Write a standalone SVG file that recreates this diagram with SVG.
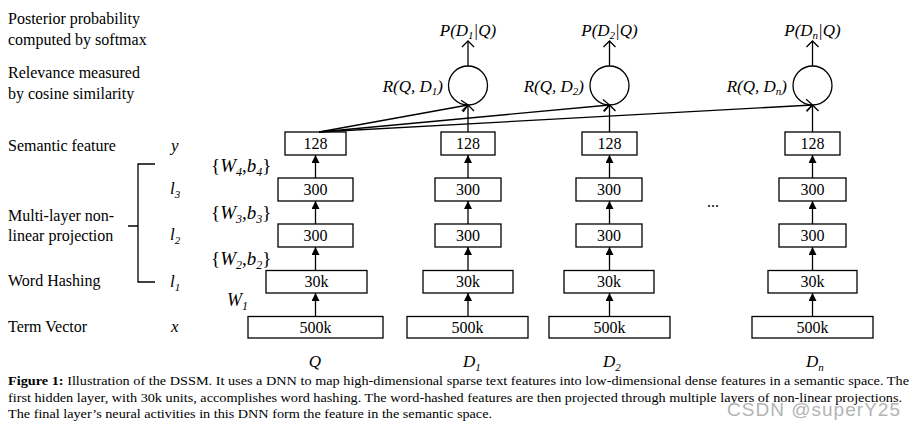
<svg xmlns="http://www.w3.org/2000/svg" width="916" height="430" viewBox="0 0 916 430">
<style>
text{font-family:"Liberation Serif","Times New Roman",serif;fill:#000}
.lbl{font-size:16px}
.it{font-style:italic}
.var{font-size:17px;font-style:italic}
.num{font-size:16px;text-anchor:middle}
.box{fill:#fff;stroke:#000;stroke-width:1.3}
.ln{stroke:#000;stroke-width:1.3;fill:none}
.cap{font-size:13px}
.sub{font-size:11px}
.wsub{font-size:12px}
</style>
<defs>
<marker id="fa" viewBox="0 0 8 8" refX="8" refY="4" markerWidth="8" markerHeight="8" orient="auto" markerUnits="userSpaceOnUse"><path d="M0,0 L8,4 L0,8 z" fill="#000"/></marker>
<marker id="oa" viewBox="0 0 8 14" refX="7" refY="7" markerWidth="8" markerHeight="14" orient="auto" markerUnits="userSpaceOnUse"><path d="M1,1 L7,7 L1,13" fill="none" stroke="#000" stroke-width="1.3"/></marker>
</defs>
<rect width="916" height="430" fill="#fff"/>

<g id="left-labels">
<text class="lbl" x="8" y="24">Posterior probability</text>
<text class="lbl" x="8" y="45">computed by softmax</text>
<text class="lbl" x="8" y="78">Relevance measured</text>
<text class="lbl" x="8" y="99">by cosine similarity</text>
<text class="lbl" x="8" y="151">Semantic feature</text>
<text class="lbl" x="8" y="221">Multi-layer non-</text>
<text class="lbl" x="8" y="241">linear projection</text>
<text class="lbl" x="8" y="286">Word Hashing</text>
<text class="lbl" x="8" y="332">Term Vector</text>
<text class="var" x="171" y="151">y</text>
<text class="var" x="170" y="194">l<tspan class="sub" dy="4">3</tspan></text>
<text class="var" x="170" y="240">l<tspan class="sub" dy="4">2</tspan></text>
<text class="var" x="170" y="287">l<tspan class="sub" dy="4">1</tspan></text>
<text class="var" x="171" y="332">x</text>
<path class="ln" d="M155,164 H138 V282 H155 M128,226 H138"/>
</g>

<g id="weights">
<text x="211" y="172" font-size="19">{<tspan class="it">W</tspan><tspan class="it wsub" dy="4">4</tspan><tspan dy="-4">,</tspan><tspan class="it">b</tspan><tspan class="it wsub" dy="4">4</tspan><tspan dy="-4">}</tspan></text>
<text x="211" y="219" font-size="19">{<tspan class="it">W</tspan><tspan class="it wsub" dy="4">3</tspan><tspan dy="-4">,</tspan><tspan class="it">b</tspan><tspan class="it wsub" dy="4">3</tspan><tspan dy="-4">}</tspan></text>
<text x="211" y="265" font-size="19">{<tspan class="it">W</tspan><tspan class="it wsub" dy="4">2</tspan><tspan dy="-4">,</tspan><tspan class="it">b</tspan><tspan class="it wsub" dy="4">2</tspan><tspan dy="-4">}</tspan></text>
<text x="227" y="306" font-size="18" font-style="italic">W<tspan class="wsub" dy="4">1</tspan></text>
</g>

<g id="col-Q">
<rect class="box" x="285" y="132" width="61" height="23"/><text class="num" x="315.5" y="149">128</text>
<rect class="box" x="278" y="178" width="75" height="23"/><text class="num" x="315.5" y="195">300</text>
<rect class="box" x="278" y="224" width="75" height="23"/><text class="num" x="315.5" y="241">300</text>
<rect class="box" x="266" y="270.5" width="101" height="22.5"/><text class="num" x="316.5" y="287">30k</text>
<rect class="box" x="248" y="316.5" width="135" height="21.5"/><text class="num" x="315.5" y="333">500k</text>
<text class="var" x="315" y="367" text-anchor="middle">Q</text>
</g>

<g id="col-D1">
<rect class="box" x="441" y="132" width="54" height="23"/><text class="num" x="468" y="149">128</text>
<rect class="box" x="435" y="178" width="66" height="23"/><text class="num" x="468" y="195">300</text>
<rect class="box" x="435" y="224" width="66" height="23"/><text class="num" x="468" y="241">300</text>
<rect class="box" x="423" y="270.5" width="90" height="22.5"/><text class="num" x="468" y="287">30k</text>
<rect class="box" x="407" y="316.5" width="121" height="21.5"/><text class="num" x="467.5" y="333">500k</text>
<circle class="ln" cx="468" cy="85.5" r="19.5"/>
<text class="var" x="443" y="92" text-anchor="end">R(Q, D<tspan class="sub" dy="3">1</tspan><tspan dy="-3">)</tspan></text>
<text class="var" x="468" y="36" text-anchor="middle">P(D<tspan class="sub" dy="3">1</tspan><tspan dy="-3">|Q)</tspan></text>
<text class="var" x="463" y="367">D<tspan class="sub" dy="4">1</tspan></text>
</g>

<g id="col-D2">
<rect class="box" x="582" y="132" width="55" height="23"/><text class="num" x="609.5" y="149">128</text>
<rect class="box" x="576" y="178" width="66" height="23"/><text class="num" x="609" y="195">300</text>
<rect class="box" x="576" y="224" width="66" height="23"/><text class="num" x="609" y="241">300</text>
<rect class="box" x="564" y="270.5" width="90" height="22.5"/><text class="num" x="609" y="287">30k</text>
<rect class="box" x="549" y="316.5" width="121" height="21.5"/><text class="num" x="609.5" y="333">500k</text>
<circle class="ln" cx="609.5" cy="85.5" r="19.5"/>
<text class="var" x="584" y="92" text-anchor="end">R(Q, D<tspan class="sub" dy="3">2</tspan><tspan dy="-3">)</tspan></text>
<text class="var" x="609.5" y="36" text-anchor="middle">P(D<tspan class="sub" dy="3">2</tspan><tspan dy="-3">|Q)</tspan></text>
<text class="var" x="603" y="367">D<tspan class="sub" dy="4">2</tspan></text>
</g>

<g id="col-Dn">
<rect class="box" x="785" y="132" width="55" height="23"/><text class="num" x="812.5" y="149">128</text>
<rect class="box" x="779" y="178" width="67" height="23"/><text class="num" x="812.5" y="195">300</text>
<rect class="box" x="779" y="224" width="67" height="23"/><text class="num" x="812.5" y="241">300</text>
<rect class="box" x="768" y="270.5" width="89" height="22.5"/><text class="num" x="812.5" y="287">30k</text>
<rect class="box" x="752" y="316.5" width="121" height="21.5"/><text class="num" x="812.5" y="333">500k</text>
<circle class="ln" cx="812.5" cy="85.5" r="19.5"/>
<text class="var" x="787" y="92" text-anchor="end">R(Q, D<tspan class="sub" dy="3">n</tspan><tspan dy="-3">)</tspan></text>
<text class="var" x="812.5" y="36" text-anchor="middle">P(D<tspan class="sub" dy="3">n</tspan><tspan dy="-3">|Q)</tspan></text>
<text class="var" x="806" y="367">D<tspan class="sub" dy="4">n</tspan></text>
</g>

<text id="ellipsis" x="713" y="207" font-size="16" text-anchor="middle">...</text>

<g id="connectors">
<g class="ln" marker-end="url(#fa)">
<line x1="315.5" y1="316.5" x2="315.5" y2="293"/><line x1="315.5" y1="270.5" x2="315.5" y2="247"/><line x1="315.5" y1="224" x2="315.5" y2="201"/><line x1="315.5" y1="178" x2="315.5" y2="155"/>
<line x1="468" y1="316.5" x2="468" y2="293"/><line x1="468" y1="270.5" x2="468" y2="247"/><line x1="468" y1="224" x2="468" y2="201"/><line x1="468" y1="178" x2="468" y2="155"/>
<line x1="609.5" y1="316.5" x2="609.5" y2="293"/><line x1="609.5" y1="270.5" x2="609.5" y2="247"/><line x1="609.5" y1="224" x2="609.5" y2="201"/><line x1="609.5" y1="178" x2="609.5" y2="155"/>
<line x1="812.5" y1="316.5" x2="812.5" y2="293"/><line x1="812.5" y1="270.5" x2="812.5" y2="247"/><line x1="812.5" y1="224" x2="812.5" y2="201"/><line x1="812.5" y1="178" x2="812.5" y2="155"/>
</g>
<g class="ln" marker-end="url(#oa)">
<line x1="468" y1="132" x2="468" y2="105"/><line x1="609.5" y1="132" x2="609.5" y2="105"/><line x1="812.5" y1="132" x2="812.5" y2="105"/>
<line x1="468" y1="66" x2="468" y2="41"/><line x1="609.5" y1="66" x2="609.5" y2="41"/><line x1="812.5" y1="66" x2="812.5" y2="41"/>
<line x1="319" y1="132" x2="468" y2="105"/><line x1="319" y1="132" x2="609.5" y2="105"/><line x1="319" y1="132" x2="812.5" y2="105"/>
</g>
</g>

<g id="caption">
<text class="cap" x="8" y="385" textLength="901" lengthAdjust="spacingAndGlyphs"><tspan font-weight="bold">Figure 1:</tspan> Illustration of the DSSM. It uses a DNN to map high-dimensional sparse text features into low-dimensional dense features in a semantic space. The</text>
<text class="cap" x="8" y="402" textLength="894" lengthAdjust="spacingAndGlyphs">first hidden layer, with 30k units, accomplishes word hashing. The word-hashed features are then projected through multiple layers of non-linear projections.</text>
<text class="cap" x="8" y="418" textLength="484" lengthAdjust="spacingAndGlyphs">The final layer’s neural activities in this DNN form the feature in the semantic space.</text>
</g>
<text id="watermark" x="727" y="416" font-size="19" style="font-family:'Liberation Sans',Arial,sans-serif;fill:#b4b4b4" textLength="173">CSDN @superY25</text>
</svg>
